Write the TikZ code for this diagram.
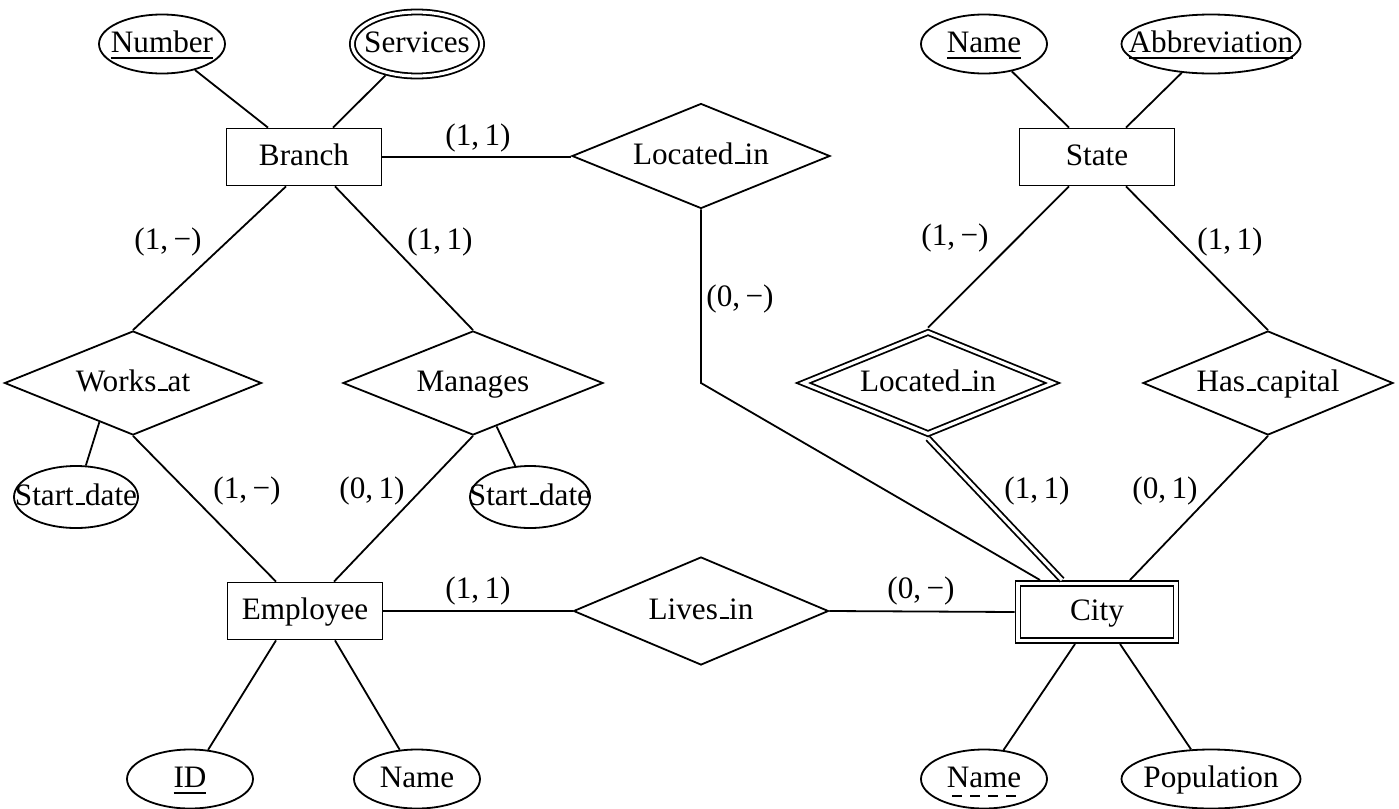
\documentclass[tikz,border=0pt]{standalone}
\usepackage{fontspec}
\setmainfont{Liberation Serif}
\usetikzlibrary{shapes.geometric,calc}
\newcommand\erlbl[1]{\makebox[0pt]{#1}}
\newcommand\erund[1]{\setbox0\hbox{#1}\rlap{\rule[-3.7pt]{\wd0}{1.2pt}}\box0}
\newcommand\erus{\leavevmode\kern.06em\vbox{\hrule width.3em height 0.8pt}}
\newcommand\erc[2]{(#1,\kern.17em#2)}
\begin{document}
\begin{tikzpicture}[x=0.5pt,y=-0.5pt,line width=0.9pt,
  font=\fontsize{15.6}{18}\selectfont,
  every node/.style={text height=11pt,text depth=3pt},
  ent/.style={draw,rectangle,minimum width=77.5pt,minimum height=28.5pt,inner sep=0pt},
  attr/.style={draw,ellipse,minimum width=63pt,minimum height=29.5pt,inner sep=0pt},
  rel/.style={draw,diamond,minimum width=128.5pt,minimum height=52pt,inner sep=0pt,aspect=2.47},
  card/.style={inner sep=0pt},
  dblnode/.style={double,double distance=1.6pt,outer sep=1.7pt},
  dblline/.style={double,double distance=1.6pt},
  dashul/.style={dash pattern=on 5pt off 4pt,line width=1.2pt}
]
\useasboundingbox (0,0) rectangle (1399,809);

% nodes
\node[ent] (branch) at (304,157) {Branch};
\node[attr] (number) at (162,44) {\erlbl{\erund{Number}}};
\node[attr,dblnode,minimum width=64.6pt,minimum height=32pt] (services) at (417,44) {\erlbl{Services}};
\node[rel,minimum width=129pt,minimum height=52.5pt] (loc1) at (701,156) {\erlbl{Located\erus in}};
\node[ent] (state) at (1097,157) {State};
\node[attr] (sname) at (984,44) {\erlbl{\erund{Name}}};
\node[attr,minimum width=89.5pt] (abbr) at (1211,44) {\erlbl{\erund{Abbreviation}}};
\node[rel] (works) at (133,383) {\erlbl{Works\erus at}};
\node[rel,minimum width=130pt] (manages) at (473,383) {\erlbl{Manages}};
\node[attr,minimum width=62pt,minimum height=31pt] (sd1) at (76,497) {\erlbl{Start\erus date}};
\node[attr,minimum width=60pt,minimum height=31pt] (sd2) at (530,497) {\erlbl{Start\erus date}};
\node[rel,dblnode,minimum width=126pt,minimum height=52pt] (loc2) at (928,383) {\erlbl{Located\erus in}};
\node[rel,minimum width=125pt] (hascap) at (1268,383) {\erlbl{Has\erus capital}};
\node[ent] (emp) at (305,611) {Employee};
\node[rel,minimum width=127.5pt,minimum height=54pt] (lives) at (701,611) {\erlbl{Lives\erus in}};
\node[ent,dblnode,minimum width=79pt,minimum height=28.6pt] (city) at (1097,612) {City};
\node[attr] (id) at (190,779) {\erlbl{\erund{ID}}};
\node[attr] (ename) at (417,779) {\erlbl{Name}};
\node[attr] (cname) at (984,779) {\erlbl{Name}};
\node[attr,minimum width=89.5pt] (pop) at (1211,779) {\erlbl{Population}};
\draw[dashul] ($(cname.center)+(-32,17)$) -- ($(cname.center)+(34,17)$);

% connectors
\draw ($(branch.north)+(-36,0)$) -- (number);
\draw ($(branch.north)+(29,0)$) -- (services);
\draw (branch.east) -- (branch.east -| loc1.west);
\draw ($(branch.south)+(-18,0)$) -- (works.north);
\draw ($(branch.south)+(31,0)$) -- (manages.north);
\coordinate (bend) at (701,383);
\draw (loc1.south) -- (bend) -- ($(city.north)+(-57,0)$);
\draw ($(state.north)+(-28,0)$) -- (sname);
\draw ($(state.north)+(29,0)$) -- (abbr);
\draw ($(state.south)+(-28,0)$) -- (loc2.north);
\draw ($(state.south)+(29,0)$) -- (hascap.north);
\draw ($(works.west)!0.74!(works.south)$) -- (sd1);
\draw ($(manages.south)!0.18!(manages.east)$) -- (sd2);
\draw[dblline] (loc2.south) -- ($(city.north)+(-35,0)$);
\draw (hascap.south) -- ($(city.north)+(33,0)$);
\draw (works.south) -- ($(emp.north)+(-29,0)$);
\draw (manages.south) -- ($(emp.north)+(29,0)$);
\draw (emp.east) -- (lives.west);
\draw (lives.east) -- (city.west);
\draw ($(emp.south)+(-29,0)$) -- (id);
\draw ($(emp.south)+(30,0)$) -- (ename);
\draw ($(city.south)+(-22,0)$) -- (cname);
\draw ($(city.south)+(23,0)$) -- (pop);

% cardinalities
\node[card] (c1) at (478,137) {\erc{1}{1}};
\node[card] (c2) at (168,241) {\erc{1}{−}};
\node[card] (c3) at (440,241) {\erc{1}{1}};
\node[card] (c4) at (740,298) {\erc{0}{−}};
\node[card] (c5) at (955,237) {\erc{1}{−}};
\node[card] (c6) at (1230,241) {\erc{1}{1}};
\node[card] (c7) at (247,490) {\erc{1}{−}};
\node[card] (c8) at (372,490) {\erc{0}{1}};
\node[card] (c9) at (1037,490) {\erc{1}{1}};
\node[card] (c10) at (1165,490) {\erc{0}{1}};
\node[card] (c11) at (478,590) {\erc{1}{1}};
\node[card] (c12) at (921,590) {\erc{0}{−}};
\end{tikzpicture}
\end{document}
